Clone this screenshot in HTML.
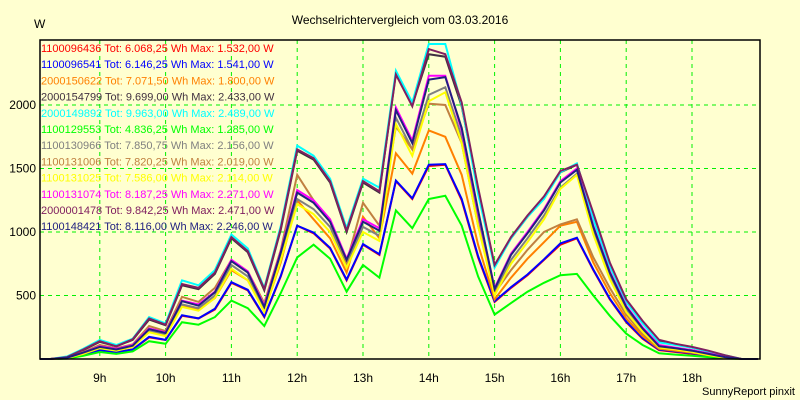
<!DOCTYPE html>
<html><head><meta charset="utf-8"><style>
body{margin:0;background:#ffffd0}
svg{display:block;font-family:"Liberation Sans",sans-serif}
</style></head><body>
<svg id="chart" width="800" height="400">
<rect x="0" y="0" width="800" height="400" fill="#ffffd0"/>
<text x="400" y="24" font-size="12" text-anchor="middle">Wechselrichtervergleich vom 03.03.2016</text>
<text x="34" y="28" font-size="12">W</text>
<text x="795" y="395" font-size="11" text-anchor="end">SunnyReport pinxit</text>
<g id="grid"></g><g id="series"></g><g id="legend"></g>
<rect x="40" y="40" width="720" height="319" fill="none" stroke="#000" stroke-width="1.5"/>
</svg>
<script>
const times=[];for(let t=8.25;t<=19.001;t+=0.25)times.push(t);
const hourTicks=[9,10,11,12,13,14,15,16,17,18];
const yTicks=[500,1000,1500,2000];
const names=["1100096436","1100096541","2000150622","2000154799","2000149892","1100129553","1100130966","1100131006","1100131025","1100131074","2000001478","1100148421"];
const totals=["6.068,25","6.146,25","7.071,50","9.699,00","9.963,00","4.836,25","7.850,75","7.820,25","7.586,00","8.187,25","9.842,25","8.116,00"];
const maxima=["1.532,00","1.541,00","1.800,00","2.433,00","2.489,00","1.285,00","2.156,00","2.019,00","2.114,00","2.271,00","2.471,00","2.246,00"];
const colors=["#ff0000","#0000ff","#ff8000","#403040","#00ffff","#00ff00","#808080","#c08040","#ffff00","#ff00ff","#802060","#202080"];
const sRed=[0,5,35,70,55,75,170,150,340,320,390,600,540,330,650,1050,990,870,620,900,820,1400,1260,1520,1530,1250,800,450,560,660,780,900,950,700,470,290,160,70,55,40,25,10,0,0];
const sBlue=[0,5,35,70,55,75,175,150,345,320,395,605,545,335,655,1050,995,875,625,905,825,1405,1265,1530,1535,1260,810,455,565,665,785,910,955,705,475,295,165,75,60,45,25,10,0,0];
const sOrange=[0,8,45,90,70,100,220,190,420,390,480,700,620,380,760,1250,1100,950,680,1120,950,1620,1460,1800,1750,1450,900,470,640,790,920,1050,1080,760,520,320,180,80,65,50,30,10,0,0];
const sDark=[0,15,70,135,100,150,310,265,580,550,670,950,840,540,1020,1640,1570,1390,1000,1390,1310,2250,2000,2400,2380,1990,1330,730,950,1120,1270,1470,1530,1130,740,460,290,140,115,90,60,25,0,0];
const sCyan=[0,20,80,150,110,160,330,280,620,580,700,980,870,560,1050,1680,1600,1420,1030,1420,1350,2270,2020,2480,2480,2000,1300,720,950,1120,1260,1470,1540,1100,730,450,280,130,110,90,60,30,0,0];
const sGreen=[0,3,25,55,40,60,140,120,290,270,330,460,400,260,520,800,900,790,530,740,640,1170,1030,1260,1285,1050,650,350,440,530,600,660,670,500,340,200,110,45,35,25,15,5,0,0];
const sGrey=[0,8,45,90,70,100,220,190,430,400,500,740,650,390,800,1260,1180,1040,750,1040,970,1900,1650,2080,2140,1750,1100,520,780,950,1130,1350,1460,1000,650,390,230,95,80,60,35,15,0,0];
const sBrown=[0,10,55,110,85,115,260,220,490,450,560,780,690,440,860,1450,1250,1080,760,1230,1050,1830,1650,2010,2000,1700,1050,520,700,860,1000,1060,1100,800,560,350,200,90,75,55,35,15,0,0];
const sYellow=[0,8,40,85,65,95,210,180,410,380,480,710,620,370,780,1220,1140,1000,720,1000,930,1850,1600,2030,2100,1700,1050,500,750,920,1100,1340,1450,980,630,370,215,90,75,55,30,10,0,0];
const sMagenta=[0,10,50,100,80,110,240,210,460,430,530,780,690,420,850,1330,1250,1100,790,1100,1030,1980,1720,2230,2230,1800,1150,560,830,1000,1180,1400,1500,1050,690,420,250,110,90,70,45,20,0,0];
const sPurple=[0,15,75,140,100,155,320,270,590,560,680,960,850,550,1030,1650,1580,1400,1010,1400,1320,2240,1990,2440,2400,2020,1350,740,960,1130,1280,1480,1530,1150,760,470,300,150,120,95,65,30,0,0];
const sNavy=[0,10,50,95,75,105,235,205,455,420,525,770,680,410,840,1310,1230,1080,780,1080,1010,1960,1700,2200,2220,1820,1170,550,820,990,1170,1390,1490,1040,680,410,240,100,85,65,40,15,0,0];
const seriesData=[sRed,sBlue,sOrange,sDark,sCyan,sGreen,sGrey,sBrown,sYellow,sMagenta,sPurple,sNavy];

const NS="http://www.w3.org/2000/svg";
const L=40,R=760,T=40,B=359;
const xS=t=>34+(t-8)*65.8;
const yS=v=>B-v*0.127;
function mk(tag,attrs,parent){const e=document.createElementNS(NS,tag);for(const k in attrs)e.setAttribute(k,attrs[k]);parent.appendChild(e);return e;}
const grid=document.getElementById('grid'),ser=document.getElementById('series'),leg=document.getElementById('legend');
hourTicks.forEach(h=>{
  const x=xS(h);
  const g=mk('line',{x1:x,x2:x,y1:T,y2:B,stroke:'#00f000','stroke-dasharray':'4,4'},grid);
  
  
  const tx=mk('text',{x:x,y:382,'font-size':12,'text-anchor':'middle'},grid);tx.textContent=h+'h';
  
  
});
yTicks.forEach(v=>{
  const y=yS(v);
  const g=mk('line',{x1:L,x2:R,y1:y,y2:y,stroke:'#00f000','stroke-dasharray':'4,4'},grid);
  
  
  const tx=mk('text',{x:36,y:y+4,'font-size':12,'text-anchor':'end'},grid);tx.textContent=v;
  
  
});
seriesData.forEach((d,i)=>{
  const pts=L+','+yS(d[0]).toFixed(1)+' '+d.map((v,j)=>xS(times[j]).toFixed(1)+','+yS(v).toFixed(1)).join(' ');
  const p=mk('polyline',{points:pts,fill:'none',stroke:colors[i],'stroke-width':2,'stroke-linejoin':'miter'},ser);
  
  
});
names.forEach((n,i)=>{
  const tx=mk('text',{x:41,y:52+i*16.2,'font-size':11,fill:colors[i]},leg);
  tx.textContent=n+' Tot: '+totals[i]+' Wh Max: '+maxima[i]+' W';
  
  
});
</script>
</body></html>
